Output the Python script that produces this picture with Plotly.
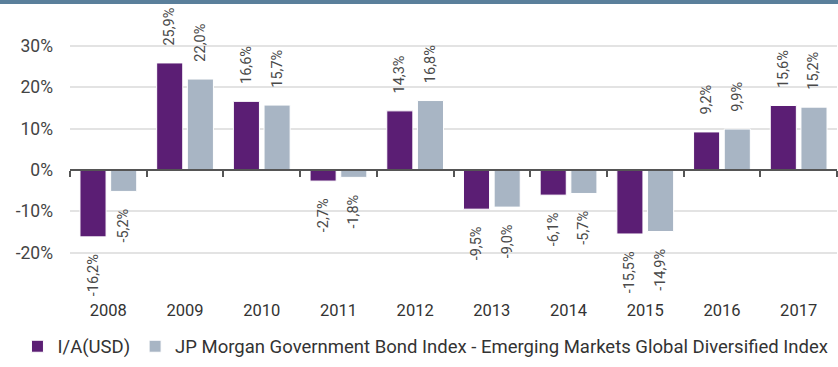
import plotly.graph_objects as go

# Annual returns (%) by calendar year
years = ["2008", "2009", "2010", "2011", "2012", "2013", "2014", "2015", "2016", "2017"]
fund_returns = [-16.2, 25.9, 16.6, -2.7, 14.3, -9.5, -6.1, -15.5, 9.2, 15.6]
index_returns = [-5.2, 22.0, 15.7, -1.8, 16.8, -9.0, -5.7, -14.9, 9.9, 15.2]
series_names = ["I/A(USD)", "JP Morgan Government Bond Index - Emerging Markets Global Diversified Index"]
y_ticks = [-20, -10, 0, 10, 20, 30]

PURPLE = "#5B1E74"
GREY_BLUE = "#A8B5C4"
TEXT = "#4A4A4A"
FONT = "Roboto"

Y_MIN, Y_MAX = -31.0, 39.2
PAD = "\u00a0" * 4


def pct_label(v):
    s = f"{v:.1f}".replace(".", ",") + "%"
    # keep a little air between the bar end and the rotated label
    return PAD + s if v >= 0 else s + PAD


x_pos = list(range(len(years)))

fig = go.Figure()
for name, vals, color in [(series_names[0], fund_returns, PURPLE),
                          (series_names[1], index_returns, GREY_BLUE)]:
    fig.add_trace(go.Bar(
        x=x_pos, y=vals, name=name,
        marker=dict(color=color, line=dict(color="white", width=1)),
        text=[pct_label(v) for v in vals],
        textposition="outside", textangle=-90,
        textfont=dict(family=FONT, size=14.5, color=TEXT),
        constraintext="none", cliponaxis=False,
    ))

zero_pos = (0 - Y_MIN) / (Y_MAX - Y_MIN)

fig.update_layout(
    width=838, height=367,
    margin=dict(l=70, r=1, t=8, b=60),
    paper_bgcolor="white", plot_bgcolor="white",
    barmode="group", bargap=0.2, bargroupgap=0.15,
    font=dict(family=FONT, size=16, color=TEXT),
    showlegend=True,
    legend=dict(orientation="h", x=-0.0685, xanchor="left", y=-0.168, yanchor="middle",
                font=dict(family=FONT, size=18.5, color="#333333"),
                traceorder="normal", itemwidth=30),
    xaxis=dict(range=[-0.5, len(years) - 0.5], tickvals=x_pos, ticktext=years,
               showgrid=False, showline=False, zeroline=False, ticks="",
               tickfont=dict(family=FONT, size=16.5, color="#333333")),
    xaxis2=dict(overlaying="x", matches="x", anchor="free", position=zero_pos,
                showline=True, linecolor="#555555", linewidth=1.5,
                ticks="outside", ticklen=6, tickcolor="#555555", tickwidth=1.5,
                tickvals=[i - 0.5 for i in range(len(years) + 1)],
                showticklabels=False, showgrid=False, zeroline=False),
    yaxis=dict(range=[Y_MIN, Y_MAX], tickvals=y_ticks,
               ticktext=[f"{t}%" for t in y_ticks],
               showgrid=True, gridcolor="#E3E3E3", gridwidth=1.5,
               zeroline=False, showline=False, ticks="",
               ticklabelstandoff=16,
               tickfont=dict(family=FONT, size=17.5, color="#444444")),
)

# thin band across the top of the figure
fig.add_shape(type="rect", xref="paper", yref="paper",
              x0=-70 / 767, x1=1.01, y0=1 + 4 / 299, y1=1 + 9 / 299,
              fillcolor="#5A7F9B", line=dict(width=0), layer="above")

# invisible point so the zero-line axis gets drawn
fig.add_trace(go.Scatter(x=[0], y=[0], xaxis="x2", mode="markers",
                         marker=dict(opacity=0), showlegend=False, hoverinfo="skip"))

fig.write_html("out.html")
